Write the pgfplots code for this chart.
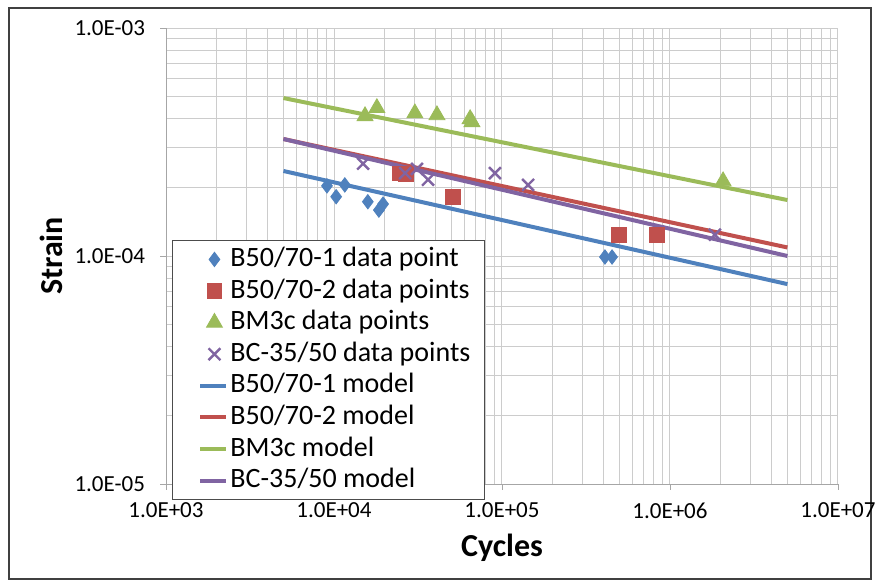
\documentclass[border=0pt]{standalone}
\usepackage{fontspec}
\setmainfont{Carlito}
\usepackage{pgfplots}
\pgfplotsset{compat=1.18}
\definecolor{xlblue}{HTML}{4F81BD}
\definecolor{xlred}{HTML}{C0504D}
\definecolor{xlgreen}{HTML}{9BBB59}
\definecolor{xlpurple}{HTML}{8064A2}
\pgfplotsset{
  markimg/.style={legend image code/.code={%
    \path[draw=none,fill=none] (-8pt,0pt) -- (13pt,0pt);
    \draw[mark repeat=2,mark phase=2,##1] plot coordinates {(0pt,0pt) (7pt,0pt) (14pt,0pt)};}},
  lineimg/.style={legend image code/.code={%
    \path[draw=none,fill=none] (-8pt,0pt) -- (13pt,0pt);
    \draw[##1] (0pt,0pt) -- (13pt,0pt);}},
}
\begin{document}
\begin{tikzpicture}
\useasboundingbox (0,0) rectangle (437.5pt,291pt);
\draw[black!75, line width=0.8pt] (4.5pt,1.5pt) rectangle (435.5pt,287pt);
\begin{axis}[
  at={(83pt,49pt)}, anchor=south west,
  scale only axis, width=336pt, height=228pt,
  xmode=log, ymode=log,
  xmin=1e3, xmax=1e7, ymin=1e-5, ymax=1e-3,
  xtick={1e3,1e4,1e5,1e6,1e7},
  xticklabels={1.0E+03,1.0E+04,1.0E+05,1.0E+06,1.0E+07},
  ytick={1e-5,1e-4,1e-3},
  yticklabels={1.0E-05,1.0E-04,1.0E-03},
  xtick pos=bottom, ytick pos=left,
  tick align=outside,
  major tick length=3pt, minor tick length=0pt,
  tick style={gray!70},
  grid=both,
  major grid style={gray!40, line width=0.5pt},
  minor grid style={gray!40, line width=0.5pt},
  axis line style={gray!70},
  axis x line*=bottom, axis y line*=left,
  ticklabel style={font=\fontsize{11.5}{13}\selectfont},
  xticklabel style={yshift=-3pt},
  yticklabel style={xshift=-4pt},
  xlabel={Cycles}, ylabel={Strain},
  xlabel style={font=\fontsize{16}{18}\selectfont\bfseries, at={(axis description cs:0.5,-0.14)}, anchor=center},
  ylabel style={font=\fontsize{16}{18}\selectfont\bfseries, at={(axis description cs:-0.171,0.5)}, anchor=center},
  legend style={at={(rel axis cs:0.009,0.535)}, anchor=north west,
    draw=black!70, fill=white, font=\fontsize{14}{16}\selectfont,
    nodes={text height=10.5pt, text depth=3.5pt, inner sep=1pt},
    row sep=-0.2pt, inner xsep=6pt, inner ysep=1.5pt},
  legend cell align=left,
]
% data points
\addplot[only marks, mark=diamond*, mark size=3.6pt, color=xlblue, markimg] coordinates {
  (9.08e3,2.03e-4) (1.03e4,1.82e-4) (1.16e4,2.05e-4) (1.59e4,1.73e-4)
  (1.85e4,1.59e-4) (1.96e4,1.69e-4) (4.10e5,9.9e-5) (4.52e5,9.9e-5)};
\addlegendentry{B50/70-1 data point}
\addplot[only marks, mark=square*, mark size=3.6pt, color=xlred, markimg] coordinates {
  (2.47e4,2.31e-4) (2.68e4,2.29e-4) (5.1e4,1.82e-4) (4.97e5,1.24e-4) (8.37e5,1.24e-4)};
\addlegendentry{B50/70-2 data points}
\addplot[only marks, mark=triangle*, mark size=4.6pt, color=xlgreen, markimg] coordinates {
  (1.53e4,4.11e-4) (1.80e4,4.46e-4) (3.03e4,4.23e-4) (4.10e4,4.15e-4)
  (6.46e4,3.99e-4) (6.62e4,3.87e-4) (2.07e6,2.13e-4)};
\addlegendentry{BM3c data points}
\addplot[only marks, mark=x, mark size=4.2pt, line width=1.2pt, color=xlpurple, markimg] coordinates {
  (1.49e4,2.54e-4) (2.65e4,2.31e-4) (3.12e4,2.41e-4) (3.63e4,2.16e-4)
  (9.08e4,2.31e-4) (1.43e5,2.05e-4) (1.85e6,1.24e-4)};
\addlegendentry{BC-35/50 data points}
% models
\addplot[xlblue, line width=2pt, lineimg] coordinates {(5e3,2.36e-4) (5e6,7.53e-5)};
\addlegendentry{B50/70-1 model}
\addplot[xlred, line width=2pt, lineimg] coordinates {(5e3,3.26e-4) (5e6,1.09e-4)};
\addlegendentry{B50/70-2 model}
\addplot[xlgreen, line width=2pt, lineimg] coordinates {(5e3,4.93e-4) (5e6,1.76e-4)};
\addlegendentry{BM3c model}
\addplot[xlpurple, line width=2pt, lineimg] coordinates {(5e3,3.26e-4) (5e6,1.0e-4)};
\addlegendentry{BC-35/50 model}
\end{axis}
\end{tikzpicture}
\end{document}
